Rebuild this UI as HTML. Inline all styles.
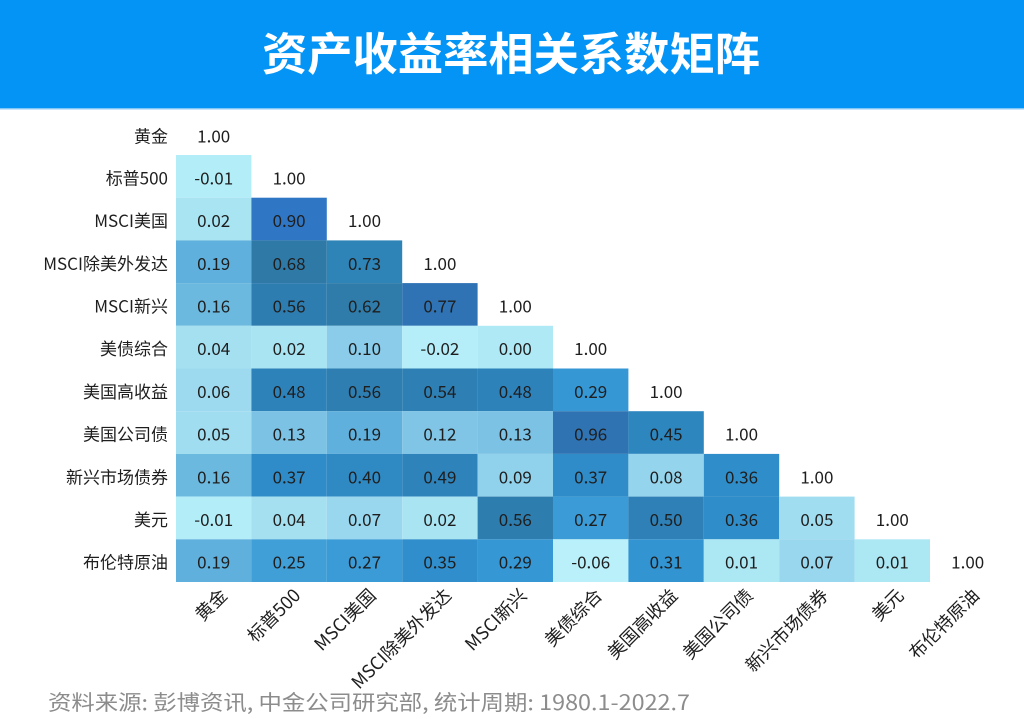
<!DOCTYPE html>
<html>
<head>
<meta charset="utf-8">
<style>
html,body{margin:0;padding:0;background:#fff;}
body{width:1024px;height:719px;overflow:hidden;}
svg{display:block;}
text{font-family:"Noto Sans CJK SC","Liberation Sans",sans-serif;}
.n{font-size:17px;fill:#1e1e1e;text-anchor:middle;}
.yl{font-size:17px;fill:#1e1e1e;text-anchor:end;}
.xl{font-size:18px;fill:#1e1e1e;text-anchor:end;}
</style>
</head>
<body>
<svg width="1024" height="719" viewBox="0 0 1024 719" xmlns="http://www.w3.org/2000/svg">
<rect x="0" y="0" width="1024" height="719" fill="#ffffff"/>
<!-- header -->
<rect x="0" y="0" width="1024" height="108.3" fill="#0494f6"/>
<rect x="0" y="108.3" width="1024" height="1.2" fill="#8ccbf8"/>
<text x="262" y="70" font-size="45" font-weight="700" fill="#ffffff" textLength="498" lengthAdjust="spacingAndGlyphs">资产收益率相关系数矩阵</text>

<!-- cells -->
<g>
<rect x="176" y="155" width="75.4" height="42.7" fill="#b3edf8"/>
<rect x="176" y="197.7" width="75.4" height="42.7" fill="#a9e4f3"/>
<rect x="251.4" y="197.7" width="75.4" height="42.7" fill="#2f77c4"/>
<rect x="176" y="240.4" width="75.4" height="42.7" fill="#5fb0dc"/>
<rect x="251.4" y="240.4" width="75.4" height="42.7" fill="#2f79a6"/>
<rect x="326.8" y="240.4" width="75.4" height="42.7" fill="#2e84b6"/>
<rect x="176" y="283.1" width="75.4" height="42.7" fill="#6cb9e0"/>
<rect x="251.4" y="283.1" width="75.4" height="42.7" fill="#2e7db1"/>
<rect x="326.8" y="283.1" width="75.4" height="42.7" fill="#2f7caa"/>
<rect x="402.2" y="283.1" width="75.4" height="42.7" fill="#2f73b4"/>
<rect x="176" y="325.8" width="75.4" height="42.7" fill="#a5e0f1"/>
<rect x="251.4" y="325.8" width="75.4" height="42.7" fill="#a9e4f3"/>
<rect x="326.8" y="325.8" width="75.4" height="42.7" fill="#8acce9"/>
<rect x="402.2" y="325.8" width="75.4" height="42.7" fill="#b5eef8"/>
<rect x="477.6" y="325.8" width="75.4" height="42.7" fill="#aee9f5"/>
<rect x="176" y="368.5" width="75.4" height="42.7" fill="#9edaef"/>
<rect x="251.4" y="368.5" width="75.4" height="42.7" fill="#2e82ba"/>
<rect x="326.8" y="368.5" width="75.4" height="42.7" fill="#2e7eb1"/>
<rect x="402.2" y="368.5" width="75.4" height="42.7" fill="#2e7fb4"/>
<rect x="477.6" y="368.5" width="75.4" height="42.7" fill="#2e82ba"/>
<rect x="553" y="368.5" width="75.4" height="42.7" fill="#3597d4"/>
<rect x="176" y="411.2" width="75.4" height="42.7" fill="#a1ddf0"/>
<rect x="251.4" y="411.2" width="75.4" height="42.7" fill="#7bc2e4"/>
<rect x="326.8" y="411.2" width="75.4" height="42.7" fill="#5fb0dc"/>
<rect x="402.2" y="411.2" width="75.4" height="42.7" fill="#80c5e6"/>
<rect x="477.6" y="411.2" width="75.4" height="42.7" fill="#7bc2e4"/>
<rect x="553" y="411.2" width="75.4" height="42.7" fill="#2f73b2"/>
<rect x="628.4" y="411.2" width="75.4" height="42.7" fill="#2e86bf"/>
<rect x="176" y="453.9" width="75.4" height="42.7" fill="#6cb9e0"/>
<rect x="251.4" y="453.9" width="75.4" height="42.7" fill="#2f8cc8"/>
<rect x="326.8" y="453.9" width="75.4" height="42.7" fill="#2f8ac4"/>
<rect x="402.2" y="453.9" width="75.4" height="42.7" fill="#2e83bb"/>
<rect x="477.6" y="453.9" width="75.4" height="42.7" fill="#90d1eb"/>
<rect x="553" y="453.9" width="75.4" height="42.7" fill="#2f8cc8"/>
<rect x="628.4" y="453.9" width="75.4" height="42.7" fill="#94d4ec"/>
<rect x="703.8" y="453.9" width="75.4" height="42.7" fill="#2f8dc9"/>
<rect x="176" y="496.6" width="75.4" height="42.7" fill="#b3edf8"/>
<rect x="251.4" y="496.6" width="75.4" height="42.7" fill="#a5e0f1"/>
<rect x="326.8" y="496.6" width="75.4" height="42.7" fill="#98d7ee"/>
<rect x="402.2" y="496.6" width="75.4" height="42.7" fill="#a9e4f3"/>
<rect x="477.6" y="496.6" width="75.4" height="42.7" fill="#2e7daf"/>
<rect x="553" y="496.6" width="75.4" height="42.7" fill="#3b9bd6"/>
<rect x="628.4" y="496.6" width="75.4" height="42.7" fill="#2e80b6"/>
<rect x="703.8" y="496.6" width="75.4" height="42.7" fill="#2f8dc9"/>
<rect x="779.2" y="496.6" width="75.4" height="42.7" fill="#a1ddf0"/>
<rect x="176" y="539.3" width="75.4" height="42.7" fill="#5fb0dc"/>
<rect x="251.4" y="539.3" width="75.4" height="42.7" fill="#409fd7"/>
<rect x="326.8" y="539.3" width="75.4" height="42.7" fill="#3b9bd6"/>
<rect x="402.2" y="539.3" width="75.4" height="42.7" fill="#2f8ecb"/>
<rect x="477.6" y="539.3" width="75.4" height="42.7" fill="#3597d4"/>
<rect x="553" y="539.3" width="75.4" height="42.7" fill="#b9f0f9"/>
<rect x="628.4" y="539.3" width="75.4" height="42.7" fill="#3294d1"/>
<rect x="703.8" y="539.3" width="75.4" height="42.7" fill="#ace7f4"/>
<rect x="779.2" y="539.3" width="75.4" height="42.7" fill="#98d7ee"/>
<rect x="854.6" y="539.3" width="75.4" height="42.7" fill="#ace7f4"/>
</g>

<!-- numbers -->
<g class="nums">
<text class="n" x="213.7" y="142.5">1.00</text>

<text class="n" x="213.7" y="184.4">-0.01</text>
<text class="n" x="289.1" y="184.4">1.00</text>

<text class="n" x="213.7" y="227.1">0.02</text>
<text class="n" x="289.1" y="227.1">0.90</text>
<text class="n" x="364.5" y="227.1">1.00</text>

<text class="n" x="213.7" y="269.8">0.19</text>
<text class="n" x="289.1" y="269.8">0.68</text>
<text class="n" x="364.5" y="269.8">0.73</text>
<text class="n" x="439.9" y="269.8">1.00</text>

<text class="n" x="213.7" y="312.5">0.16</text>
<text class="n" x="289.1" y="312.5">0.56</text>
<text class="n" x="364.5" y="312.5">0.62</text>
<text class="n" x="439.9" y="312.5">0.77</text>
<text class="n" x="515.3" y="312.5">1.00</text>

<text class="n" x="213.7" y="355.2">0.04</text>
<text class="n" x="289.1" y="355.2">0.02</text>
<text class="n" x="364.5" y="355.2">0.10</text>
<text class="n" x="439.9" y="355.2">-0.02</text>
<text class="n" x="515.3" y="355.2">0.00</text>
<text class="n" x="590.7" y="355.2">1.00</text>

<text class="n" x="213.7" y="397.9">0.06</text>
<text class="n" x="289.1" y="397.9">0.48</text>
<text class="n" x="364.5" y="397.9">0.56</text>
<text class="n" x="439.9" y="397.9">0.54</text>
<text class="n" x="515.3" y="397.9">0.48</text>
<text class="n" x="590.7" y="397.9">0.29</text>
<text class="n" x="666.1" y="397.9">1.00</text>

<text class="n" x="213.7" y="440.6">0.05</text>
<text class="n" x="289.1" y="440.6">0.13</text>
<text class="n" x="364.5" y="440.6">0.19</text>
<text class="n" x="439.9" y="440.6">0.12</text>
<text class="n" x="515.3" y="440.6">0.13</text>
<text class="n" x="590.7" y="440.6">0.96</text>
<text class="n" x="666.1" y="440.6">0.45</text>
<text class="n" x="741.5" y="440.6">1.00</text>

<text class="n" x="213.7" y="483.3">0.16</text>
<text class="n" x="289.1" y="483.3">0.37</text>
<text class="n" x="364.5" y="483.3">0.40</text>
<text class="n" x="439.9" y="483.3">0.49</text>
<text class="n" x="515.3" y="483.3">0.09</text>
<text class="n" x="590.7" y="483.3">0.37</text>
<text class="n" x="666.1" y="483.3">0.08</text>
<text class="n" x="741.5" y="483.3">0.36</text>
<text class="n" x="816.9" y="483.3">1.00</text>

<text class="n" x="213.7" y="526">-0.01</text>
<text class="n" x="289.1" y="526">0.04</text>
<text class="n" x="364.5" y="526">0.07</text>
<text class="n" x="439.9" y="526">0.02</text>
<text class="n" x="515.3" y="526">0.56</text>
<text class="n" x="590.7" y="526">0.27</text>
<text class="n" x="666.1" y="526">0.50</text>
<text class="n" x="741.5" y="526">0.36</text>
<text class="n" x="816.9" y="526">0.05</text>
<text class="n" x="892.3" y="526">1.00</text>

<text class="n" x="213.7" y="568.7">0.19</text>
<text class="n" x="289.1" y="568.7">0.25</text>
<text class="n" x="364.5" y="568.7">0.27</text>
<text class="n" x="439.9" y="568.7">0.35</text>
<text class="n" x="515.3" y="568.7">0.29</text>
<text class="n" x="590.7" y="568.7">-0.06</text>
<text class="n" x="666.1" y="568.7">0.31</text>
<text class="n" x="741.5" y="568.7">0.01</text>
<text class="n" x="816.9" y="568.7">0.07</text>
<text class="n" x="892.3" y="568.7">0.01</text>
<text class="n" x="967.7" y="568.7">1.00</text>
</g>

<!-- y labels -->
<g>
<text class="yl" x="168" y="142.5">黄金</text>
<text class="yl" x="168" y="184.4">标普500</text>
<text class="yl" x="168" y="227.1">MSCI美国</text>
<text class="yl" x="168" y="269.8">MSCI除美外发达</text>
<text class="yl" x="168" y="312.5">MSCI新兴</text>
<text class="yl" x="168" y="355.2">美债综合</text>
<text class="yl" x="168" y="397.9">美国高收益</text>
<text class="yl" x="168" y="440.6">美国公司债</text>
<text class="yl" x="168" y="483.3">新兴市场债券</text>
<text class="yl" x="168" y="526">美元</text>
<text class="yl" x="168" y="568.7">布伦特原油</text>
</g>

<!-- x labels -->
<g>
<text class="xl" x="0" y="15" transform="translate(217.7,586) rotate(-45)">黄金</text>
<text class="xl" x="0" y="15" transform="translate(291.1,586) rotate(-45)">标普500</text>
<text class="xl" x="0" y="15" transform="translate(366.5,586) rotate(-45)">MSCI美国</text>
<text class="xl" x="0" y="15" transform="translate(441.9,586) rotate(-45)">MSCI除美外发达</text>
<text class="xl" x="0" y="15" transform="translate(517.3,586) rotate(-45)">MSCI新兴</text>
<text class="xl" x="0" y="15" transform="translate(592.7,586) rotate(-45)">美债综合</text>
<text class="xl" x="0" y="15" transform="translate(668.1,586) rotate(-45)">美国高收益</text>
<text class="xl" x="0" y="15" transform="translate(743.5,586) rotate(-45)">美国公司债</text>
<text class="xl" x="0" y="15" transform="translate(818.9,586) rotate(-45)">新兴市场债券</text>
<text class="xl" x="0" y="15" transform="translate(894.3,586) rotate(-45)">美元</text>
<text class="xl" x="0" y="15" transform="translate(969.7,586) rotate(-45)">布伦特原油</text>
</g>

<!-- footer -->
<text x="48" y="710" font-size="21" fill="#8c8c8c" textLength="642" lengthAdjust="spacingAndGlyphs">资料来源: 彭博资讯, 中金公司研究部, 统计周期: 1980.1-2022.7</text>
</svg>
</body>
</html>
